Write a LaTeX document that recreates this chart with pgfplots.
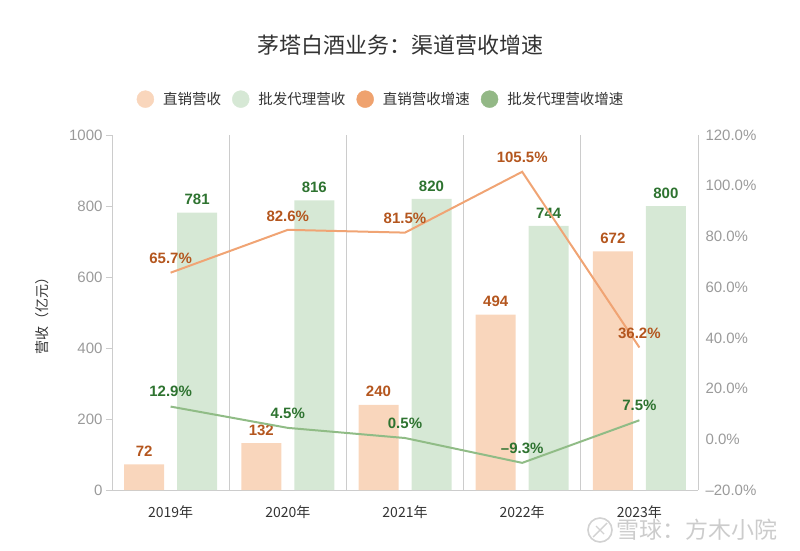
\documentclass[border=0pt]{standalone}
\usepackage{pgfplots}
\pgfplotsset{compat=1.18}
\usepackage{fontspec}
\setmainfont{Liberation Sans}
\newfontfamily\cjk{Noto Sans CJK SC}
\definecolor{dbar}{HTML}{F9D6BC}
\definecolor{wbar}{HTML}{D6E8D5}
\definecolor{dline}{HTML}{F0A474}
\definecolor{wline}{HTML}{90BC86}
\definecolor{dleg}{HTML}{EFA26E}
\definecolor{wleg}{HTML}{93B886}
\definecolor{dtext}{HTML}{B4561E}
\definecolor{wtext}{HTML}{2E7330}
\definecolor{gridc}{HTML}{CCCCCC}
\definecolor{tickc}{HTML}{9A9A9A}
\definecolor{textc}{HTML}{333333}
\begin{document}
\begin{tikzpicture}
\path[use as bounding box] (0pt,0pt) rectangle (800pt,550pt);
\node[font=\cjk\fontsize{22}{26}\selectfont, text=textc] at (400pt,505pt) {茅塔白酒业务：渠道营收增速};
% watermark
\draw[gray!35, line width=1.6pt] (600pt,20pt) circle (12pt);
\draw[gray!35, line width=1.4pt] (593pt,13pt) -- (607pt,27pt) (596pt,24pt) -- (604pt,16pt);
\node[font=\cjk\fontsize{23}{26}\selectfont, text=gray!40] at (697pt,20pt) {雪球：方木小院};
\begin{axis}[
  at={(112pt,60pt)}, anchor=south west,
  scale only axis, width=586pt, height=355pt,
  xmin=-0.5, xmax=4.5, ymin=0, ymax=1000,
  axis x line*=bottom, axis y line*=left,
  axis line style={draw=gridc, line width=0.8pt, -},
  xtick={0,1,2,3,4},
  xticklabels={2019年,2020年,2021年,2022年,2023年},
  x tick style={draw=none},
  xticklabel style={font=\cjk\fontsize{14}{16}\selectfont, text=textc, yshift=-6pt},
  ytick={0,200,400,600,800,1000},
  y tick style={draw=gridc, line width=0.8pt},
  tick align=outside, major tick length=6pt,
  yticklabel style={font=\fontsize{15}{18}\selectfont, text=tickc},
  /pgf/number format/assume math mode=true,
  /pgf/number format/1000 sep={},
  ylabel={营收（亿元）},
  ylabel style={font=\cjk\fontsize{14}{16}\selectfont, text=textc, at={(axis description cs:-0.1195,0.5)}, anchor=center},
  clip=false,
]
\draw[gridc, line width=0.8pt] (axis cs:0.5,0) -- (axis cs:0.5,1000);
\draw[gridc, line width=0.8pt] (axis cs:1.5,0) -- (axis cs:1.5,1000);
\draw[gridc, line width=0.8pt] (axis cs:2.5,0) -- (axis cs:2.5,1000);
\draw[gridc, line width=0.8pt] (axis cs:3.5,0) -- (axis cs:3.5,1000);
\draw[gridc, line width=0.8pt] (axis cs:4.5,0) -- (axis cs:4.5,1000);
\addplot[ybar, bar width=40pt, bar shift=-26.5pt, fill=dbar, draw=none,
  nodes near coords,
  every node near coord/.append style={font=\bfseries\fontsize{15}{18}\selectfont, text=dtext, anchor=center, yshift=13pt, xshift=-26.5pt}]
  coordinates {(0,72) (1,132) (2,240) (3,494) (4,672)};
\addplot[ybar, bar width=40pt, bar shift=26.5pt, fill=wbar, draw=none,
  nodes near coords,
  every node near coord/.append style={font=\bfseries\fontsize{15}{18}\selectfont, text=wtext, anchor=center, yshift=13pt, xshift=26.5pt}]
  coordinates {(0,781) (1,816) (2,820) (3,744) (4,800)};
\end{axis}
\begin{axis}[
  at={(112pt,60pt)}, anchor=south west,
  scale only axis, width=586pt, height=355pt,
  xmin=-0.5, xmax=4.5, ymin=-20, ymax=120,
  axis x line=none, axis y line*=right,
  axis line style={draw=none},
  ytick={-20,0,20,40,60,80,100,120},
  yticklabels={–20.0\%,0.0\%,20.0\%,40.0\%,60.0\%,80.0\%,100.0\%,120.0\%},
  major tick length=0pt,
  yticklabel style={font=\fontsize{15}{18}\selectfont, text=tickc, xshift=4pt},
  clip=false,
  legend columns=4,
  legend style={at={(0.459,1.101)}, anchor=center, draw=none, fill=none,
    font=\cjk\fontsize{14.5}{16}\selectfont, text=textc,
    /tikz/every odd column/.style={column sep=7pt},
    /tikz/every even column/.style={column sep=9pt}},
]
\addlegendimage{legend image code/.code={\fill[dbar] (0pt,0pt) circle (8.5pt);}}
\addlegendentry{直销营收}
\addlegendimage{legend image code/.code={\fill[wbar] (0pt,0pt) circle (8.5pt);}}
\addlegendentry{批发代理营收}
\addlegendimage{legend image code/.code={\fill[dleg] (0pt,0pt) circle (8.5pt);}}
\addlegendentry{直销营收增速}
\addlegendimage{legend image code/.code={\fill[wleg] (0pt,0pt) circle (8.5pt);}}
\addlegendentry{批发代理营收增速}
\addplot[dline, line width=2pt, mark=none, forget plot,
  nodes near coords, point meta=explicit symbolic,
  every node near coord/.append style={font=\bfseries\fontsize{15}{18}\selectfont, text=dtext, anchor=center, yshift=14pt}]
  coordinates {(0,65.7) [65.7\%] (1,82.6) [82.6\%] (2,81.5) [81.5\%] (3,105.5) [105.5\%] (4,36.2) [36.2\%]};
\addplot[wline, line width=2pt, mark=none, forget plot,
  nodes near coords, point meta=explicit symbolic,
  every node near coord/.append style={font=\bfseries\fontsize{15}{18}\selectfont, text=wtext, anchor=center, yshift=15pt}]
  coordinates {(0,12.9) [12.9\%] (1,4.5) [4.5\%] (2,0.5) [0.5\%] (3,-9.3) [–9.3\%] (4,7.5) [7.5\%]};
\end{axis}
\end{tikzpicture}
\end{document}
